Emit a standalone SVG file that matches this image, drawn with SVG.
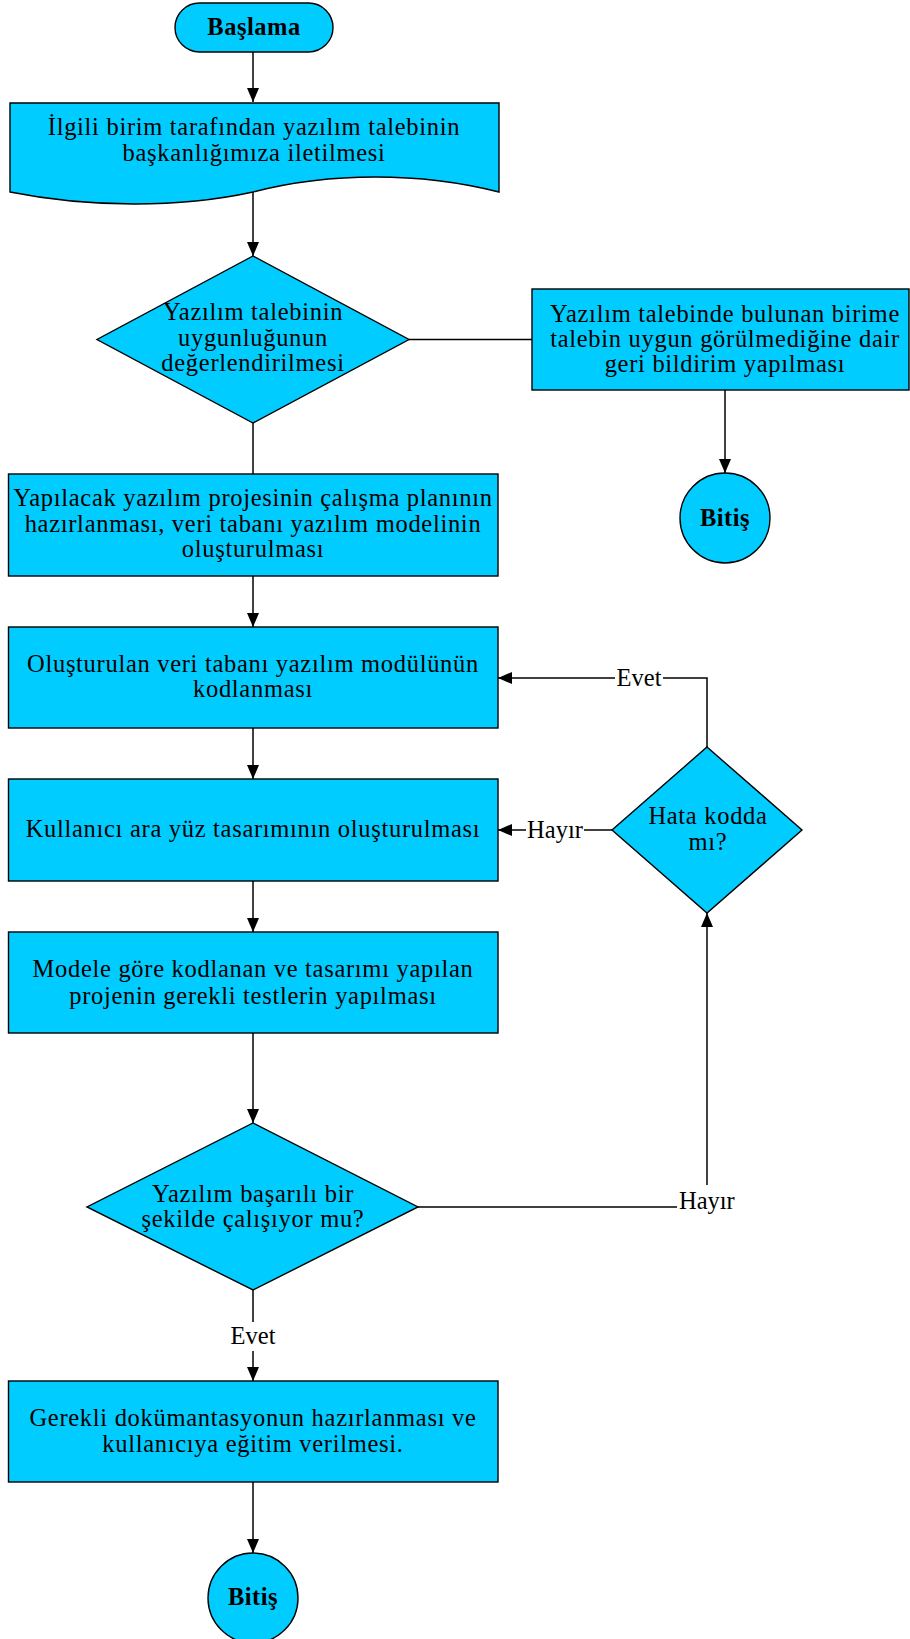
<svg xmlns="http://www.w3.org/2000/svg" width="910" height="1639" viewBox="0 0 910 1639">
<defs>
<marker id="arr" viewBox="0 0 14 12" refX="14" refY="6" markerWidth="14" markerHeight="12" markerUnits="userSpaceOnUse" orient="auto">
<path d="M0,0 L14,6 L0,12 Z" fill="#000"/>
</marker>
<style>
.s{fill:#00CCFF;stroke:#000;stroke-width:1.4}
.t{font-family:"Liberation Serif","Times New Roman",serif;font-size:24.5px;letter-spacing:0.7px;fill:#000;text-anchor:middle}
.b{font-weight:bold;letter-spacing:0.5px}
.lb{font-family:"Liberation Serif","Times New Roman",serif;font-size:24.5px;fill:#000}
.m{text-anchor:middle}
.c{fill:none;stroke:#000;stroke-width:1.5}
.a{fill:none;stroke:#000;stroke-width:1.5;marker-end:url(#arr)}
</style>
</defs>
<rect width="910" height="1639" fill="#fff"/>
<g id="connectors">
<path class="a" d="M253,52 V102"/>
<path class="a" d="M253,192 V256"/>
<path class="c" d="M409,339.5 H532"/>
<path class="a" d="M725,390 V473"/>
<path class="c" d="M253,423 V474"/>
<path class="a" d="M253,576 V627"/>
<path class="a" d="M253,728 V779"/>
<path class="a" d="M253,881 V932"/>
<path class="a" d="M253,1033 V1123"/>
<path class="c" d="M253,1290 V1322"/>
<path class="a" d="M253,1351 V1381"/>
<path class="a" d="M253,1482 V1553"/>
<path class="c" d="M707,747 V678 H663"/>
<path class="a" d="M615,678 H498"/>
<path class="c" d="M612,830 H584"/>
<path class="a" d="M526,830 H498"/>
<path class="c" d="M418,1207 H677"/>
<path class="a" d="M707,1185 V913"/>
<text class="lb m" x="639" y="686">Evet</text>
<text class="lb m" x="555" y="838">Hayır</text>
<text class="lb" x="679" y="1209">Hayır</text>
<text class="lb m" x="253" y="1344">Evet</text>
</g>
<g id="start">
<rect class="s" x="175" y="3" width="158" height="49" rx="24.5"/>
<text class="t b" x="254" y="35">Başlama</text>
</g>
<g id="request">
<path class="s" d="M10,103 H499 V192 C420,172 330,172 253,192 C180,208 90,208 10,192 Z"/>
<text class="t" x="254" y="135">İlgili birim tarafından yazılım talebinin</text>
<text class="t" x="254" y="161">başkanlığımıza iletilmesi</text>
</g>
<g id="decision1">
<polygon class="s" points="253,256 409,339.5 253,423 97,339.5"/>
<text class="t" x="253" y="320">Yazılım talebinin</text>
<text class="t" x="253" y="346">uygunluğunun</text>
<text class="t" x="253" y="371">değerlendirilmesi</text>
</g>
<g id="reject">
<rect class="s" x="532" y="289" width="377" height="101"/>
<text class="t" x="725" y="322">Yazılım talebinde bulunan birime</text>
<text class="t" x="725" y="347">talebin uygun görülmediğine dair</text>
<text class="t" x="725" y="372">geri bildirim yapılması</text>
</g>
<g id="end1">
<circle class="s" cx="725" cy="518" r="45"/>
<text class="t b" x="725" y="526">Bitiş</text>
</g>
<g id="plan">
<rect class="s" x="8.5" y="474" width="489.5" height="102"/>
<text class="t" x="253" y="506">Yapılacak yazılım projesinin çalışma planının</text>
<text class="t" x="253" y="532">hazırlanması, veri tabanı yazılım modelinin</text>
<text class="t" x="253" y="557">oluşturulması</text>
</g>
<g id="coding">
<rect class="s" x="8.5" y="627" width="489.5" height="101"/>
<text class="t" x="253" y="672">Oluşturulan veri tabanı yazılım modülünün</text>
<text class="t" x="253" y="697">kodlanması</text>
</g>
<g id="ui">
<rect class="s" x="8.5" y="779" width="489.5" height="102"/>
<text class="t" x="253" y="837">Kullanıcı ara yüz tasarımının oluşturulması</text>
</g>
<g id="test">
<rect class="s" x="8.5" y="932" width="489.5" height="101"/>
<text class="t" x="253" y="977">Modele göre kodlanan ve tasarımı yapılan</text>
<text class="t" x="253" y="1004">projenin gerekli testlerin yapılması</text>
</g>
<g id="decision2">
<polygon class="s" points="253,1123 418,1207 253,1290 87,1207"/>
<text class="t" x="253" y="1202">Yazılım başarılı bir</text>
<text class="t" x="253" y="1227">şekilde çalışıyor mu?</text>
</g>
<g id="decision3">
<polygon class="s" points="707,747 802,830 707,913 612,830"/>
<text class="t" x="708" y="824">Hata kodda</text>
<text class="t" x="708" y="850">mı?</text>
</g>
<g id="docs">
<rect class="s" x="8.5" y="1381" width="489.5" height="101"/>
<text class="t" x="253" y="1426">Gerekli dokümantasyonun hazırlanması ve</text>
<text class="t" x="253" y="1452">kullanıcıya eğitim verilmesi.</text>
</g>
<g id="end2">
<circle class="s" cx="253" cy="1598" r="45"/>
<text class="t b" x="253" y="1605">Bitiş</text>
</g>
</svg>
